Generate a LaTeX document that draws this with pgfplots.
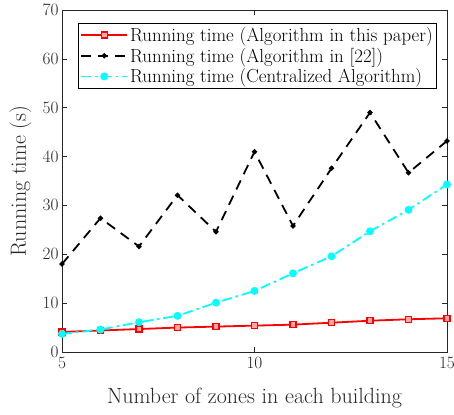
\documentclass[border=0pt]{standalone}
\usepackage{pgfplots}
\pgfplotsset{compat=1.18}

\definecolor{axgray}{gray}{0.15}
\definecolor{lred}{rgb}{1,0,0}
\definecolor{lcyan}{rgb}{0,1,1}

\begin{document}
\begin{tikzpicture}
\begin{axis}[
  name=ax,
  scale only axis,
  width=385pt, height=342pt,
  xmin=5, xmax=15, ymin=0, ymax=70,
  xtick={5,10,15}, ytick={0,10,...,70},
  tick align=inside, tick pos=both,
  major tick length=5pt,
  axis line style={axgray, line width=0.6pt},
  every tick/.style={axgray, line width=0.6pt},
  tick label style={font=\fontsize{18}{20}\selectfont, text=axgray},
  xticklabel style={yshift=-2pt},
  label style={font=\fontsize{22}{24}\selectfont, text=axgray},
  xlabel={Number of zones in each building},
  ylabel={Running time (s)},
  xlabel style={at={(axis description cs:0.5,-0.135)}, anchor=center},
  ylabel style={at={(axis description cs:-0.108,0.5)}, anchor=center},
  legend style={at={(0.0416,0.962)}, anchor=north west, draw=black, line width=0.6pt,
    font=\fontsize{18.9}{20}\selectfont, inner xsep=2pt, inner ysep=2pt, row sep=1pt,
    legend cell align=left},
  legend image code/.code={%
    \draw[mark repeat=2, mark phase=2] plot coordinates {(0pt,0pt) (23pt,0pt) (46pt,0pt)};},
]
% Proposed algorithm
\addplot[lred, line width=1.8pt, mark=square*, mark size=3pt,
  mark options={solid, fill=lred!35, draw=lred, line width=1.4pt}]
  coordinates {(5,4.1) (6,4.4) (7,4.7) (8,5.0) (9,5.2) (10,5.4) (11,5.6) (12,6.0) (13,6.4) (14,6.7) (15,6.9)};
\addlegendentry{Running time (Algorithm in this paper)}
% Algorithm of reference [22]
\addplot[black, line width=1.8pt, dash pattern=on 10pt off 7pt, mark=*, mark size=1.6pt,
  mark options={solid}]
  coordinates {(5,18.0) (6,27.4) (7,21.6) (8,32.1) (9,24.6) (10,41.0) (11,25.8) (12,37.6) (13,49.0) (14,36.7) (15,43.2)};
\addlegendentry{Running time (Algorithm in [22])}
% Centralized algorithm
\addplot[lcyan, line width=1.8pt, dash pattern=on 10pt off 4pt on 2.5pt off 4pt, mark=*, mark size=3pt,
  mark options={solid}]
  coordinates {(5,3.7) (6,4.6) (7,6.1) (8,7.4) (9,10.1) (10,12.5) (11,16.1) (12,19.6) (13,24.7) (14,29.1) (15,34.3)};
\addlegendentry{Running time (Centralized Algorithm)}
\end{axis}
% fixed page frame around the axis
\pgfresetboundingbox
\path ([shift={(-62pt,-62pt)}]ax.south west) rectangle ([shift={(7pt,10pt)}]ax.north east);
\end{tikzpicture}
\end{document}
